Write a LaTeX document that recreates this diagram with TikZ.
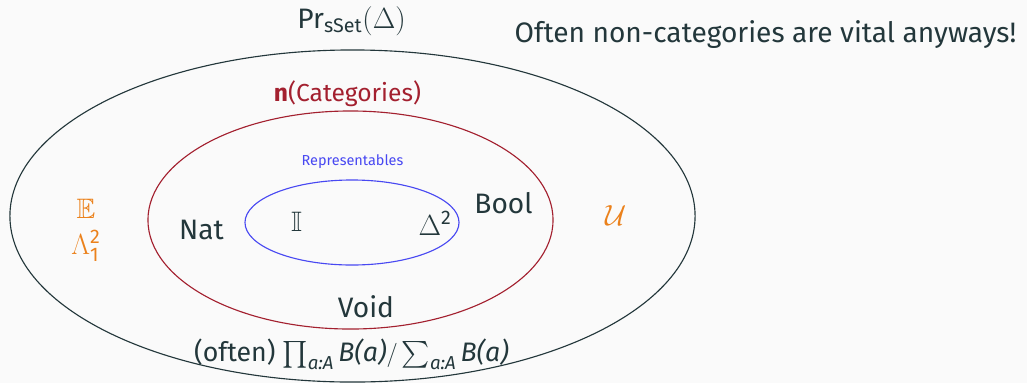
\documentclass[tikz,border=0pt]{standalone}
\usepackage{fontspec}
\setmainfont{Fira Sans}
\usepackage{amsmath}
\usepackage{amssymb}
\usepackage{xcolor}
\definecolor{slate}{HTML}{23373B}
\definecolor{catred}{HTML}{A3202F}
\definecolor{repblue}{HTML}{4848F2}
\definecolor{amber}{HTML}{EB811B}
\definecolor{paper}{HTML}{FAFAFA}
\newcommand{\itx}[1]{\text{\itshape #1}}
\tikzset{
  big/.style={inner sep=0pt, anchor=base, text=slate, font=\fontsize{20}{24}\selectfont},
  mid/.style={big, font=\fontsize{17.5}{21}\selectfont},
  odd/.style={big, text=amber},
}

\begin{document}
\begin{tikzpicture}[x=0.025cm, y=-0.025cm]
\useasboundingbox[fill=paper] (0,0) rectangle (1027,383);
%%%%% Ellipses %%%%%
\draw[slate, line width=0.8pt] (352.5,216) ellipse [x radius=8.5625cm, y radius=4.15cm];
\draw[catred, line width=0.8pt] (350.5,220) ellipse [x radius=5.0625cm, y radius=2.725cm];
\draw[repblue, line width=0.8pt] (352,222.5) ellipse [x radius=2.675cm, y radius=1.0625cm];
%%%%% Titles %%%%%
\node[big] (presheaves) at (351.5,28) {Pr$_{\text{sSet}}(\Delta)$};
\node[big] (motto) at (765.5,42) {Often non-categories are vital anyways!};
\node[mid, text=catred] (cats) at (347.5,101) {\textbf{n}(Categories)};
\node[big, text=repblue, font=\fontsize{10.3}{12}\selectfont] (reps) at (352.5,165) {Representables};
%%%%% Members %%%%%
\node[odd] (expect) at (86,218) {$\mathbb{E}$};
\node[odd] (horn) at (86,254) {$\Lambda_{\text{1}}^{\text{2}}$};
\node[odd] (univ) at (616,225) {$\mathcal{U}$};
\node[big] (nat) at (201.5,239) {Nat};
\node[big] (interval) at (296.5,231) {$\mathbb{I}$};
\node[big] (simplex) at (435,235) {$\Delta^{\text{2}}$};
\node[big] (bool) at (503.5,213) {Bool};
\node[big] (void) at (366,317) {Void};
\node[big, font=\fontsize{19}{23}\selectfont] (pisigma) at (351.5,361) {(often) $\prod_{\itx{a:A}}\itx{B(a)}/\sum_{\itx{a:A}}\itx{B(a)}$};
\end{tikzpicture}
\end{document}
